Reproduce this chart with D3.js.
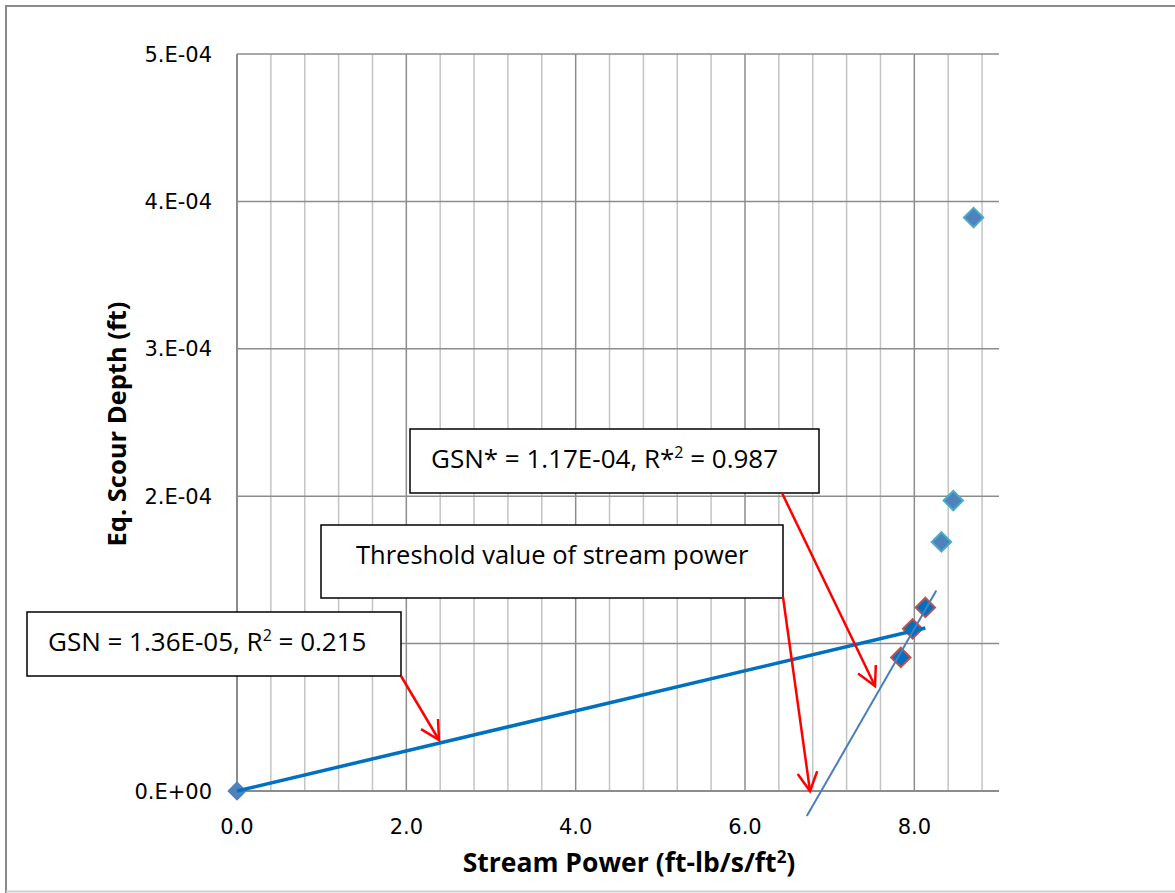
<!DOCTYPE html>
<html>
<head>
<meta charset="utf-8">
<script src="https://cdn.jsdelivr.net/npm/d3@7"></script>
<style>
  body { margin: 0; background: #fff; }
  svg { display: block; font-family: "Open Sans", "Noto Sans", sans-serif; }
  .tick { font-family: "DejaVu Sans", Verdana, sans-serif; }
</style>
</head>
<body>
<svg class="svg" width="1175" height="893"></svg>
<script>
// data
const originPoint = [{ x: 0, y: 0 }];
const fitX = [7.84, 7.98, 8.13];
const fitY = [0.906e-4, 1.10e-4, 1.245e-4];
const otherX = [8.32, 8.46, 8.70];
const otherY = [1.69e-4, 1.97e-4, 3.89e-4];

const gsnSlope = 1.36e-5;
const gsnRange = [0, 8.13];
// GSN* trend line ends as drawn
const gsnStarX = [6.73, 8.26];
const gsnStarY = [-0.17e-4, 1.36e-4];

const xTicks = [0, 2, 4, 6, 8];
const xMinorStep = 0.4;
const yTicks = [0, 1e-4, 2e-4, 3e-4, 4e-4, 5e-4];
// 1.E-04 sits under the GSN box in the original, so it is not shown
const yLabelTicks = [0, 2e-4, 3e-4, 4e-4, 5e-4];

const labels = {
  x: 'Stream Power (ft-lb/s/ft',
  y: 'Eq. Scour Depth (ft)',
  gsn: ['GSN = 1.36E-05, R', '2', ' = 0.215'],
  gsnStar: ['GSN* = 1.17E-04, R*', '2', ' = 0.987'],
  threshold: 'Threshold value of stream power'
};

const svg = d3.select('.svg');

// outer frame
svg.append('path')
  .attr('d', 'M6,893 L6,6 L1175,6')
  .attr('fill', 'none')
  .attr('stroke', '#8a8a8a')
  .attr('stroke-width', 2);
svg.append('line')
  .attr('x1', 6).attr('x2', 1175).attr('y1', 891.5).attr('y2', 891.5)
  .attr('stroke', '#d0d0d0').attr('stroke-width', 2);

const x = d3.scaleLinear().domain([0, 9]).range([237, 999]);
const y = d3.scaleLinear().domain([0, 5e-4]).range([791, 54]);

const grid = svg.append('g');

// minor vertical grid
const minor = d3.range(xMinorStep, 9, xMinorStep).filter(v => Math.abs(v / 2 - Math.round(v / 2)) > 1e-6);
grid.selectAll('.minor')
  .data(minor)
  .join('line')
  .attr('x1', d => x(d)).attr('x2', d => x(d))
  .attr('y1', y(0)).attr('y2', y(5e-4))
  .attr('stroke', '#c4c4c4').attr('stroke-width', 1.5);

// major vertical grid
grid.selectAll('.majorx')
  .data(xTicks.slice(1))
  .join('line')
  .attr('x1', d => x(d)).attr('x2', d => x(d))
  .attr('y1', y(0)).attr('y2', y(5e-4))
  .attr('stroke', '#8c8c8c').attr('stroke-width', 1.5);

// horizontal grid
grid.selectAll('.majory')
  .data(yTicks)
  .join('line')
  .attr('x1', x(0)).attr('x2', x(9))
  .attr('y1', d => y(d)).attr('y2', d => y(d))
  .attr('stroke', '#8c8c8c').attr('stroke-width', 1.5);

// axis lines
grid.append('line')
  .attr('x1', x(0)).attr('x2', x(0))
  .attr('y1', y(0)).attr('y2', y(5e-4))
  .attr('stroke', '#8c8c8c').attr('stroke-width', 2);
grid.append('line')
  .attr('x1', x(0)).attr('x2', x(9))
  .attr('y1', y(0)).attr('y2', y(0))
  .attr('stroke', '#8c8c8c').attr('stroke-width', 2);

// tick labels
const fmtY = d => d === 0 ? '0.E+00' : `${Math.round(d / 1e-4)}.E-04`;
svg.append('g')
  .attr('class', 'tick')
  .selectAll('text')
  .data(yLabelTicks)
  .join('text')
  .attr('x', 212)
  .attr('y', d => y(d))
  .attr('dy', '0.36em')
  .attr('text-anchor', 'end')
  .attr('font-size', 21)
  .attr('fill', '#000')
  .text(fmtY);

svg.append('g')
  .attr('class', 'tick')
  .selectAll('text')
  .data(xTicks)
  .join('text')
  .attr('x', d => x(d))
  .attr('y', 834)
  .attr('text-anchor', 'middle')
  .attr('font-size', 21)
  .attr('fill', '#000')
  .text(d => d3.format('.1f')(d));

// axis titles
const xt = svg.append('text')
  .attr('x', 629).attr('y', 872)
  .attr('text-anchor', 'middle')
  .attr('font-size', 26.5).attr('font-weight', 'bold')
  .text(labels.x);
xt.append('tspan').attr('dy', -9).attr('font-size', 17).text('2');
xt.append('tspan').attr('dy', 9).text(')');

svg.append('text')
  .attr('transform', 'translate(126,424) rotate(-90)')
  .attr('text-anchor', 'middle')
  .attr('font-size', 25.5).attr('font-weight', 'bold')
  .text(labels.y);

// markers
const diamond = d3.symbol().type(d3.symbolDiamond2).size(240);
const pts = svg.append('g');

pts.selectAll('.orig')
  .data(originPoint)
  .join('path')
  .attr('d', diamond)
  .attr('transform', d => `translate(${x(d.x)},${y(d.y)})`)
  .attr('fill', '#4f81bd');

const fitPts = fitX.map((v, i) => ({ x: v, y: fitY[i] }));
pts.selectAll('.fit')
  .data(fitPts)
  .join('path')
  .attr('d', diamond)
  .attr('transform', d => `translate(${x(d.x)},${y(d.y)})`)
  .attr('fill', '#0070c0')
  .attr('stroke', '#c0504d')
  .attr('stroke-width', 2);

const otherPts = otherX.map((v, i) => ({ x: v, y: otherY[i] }));
pts.selectAll('.other')
  .data(otherPts)
  .join('path')
  .attr('d', diamond)
  .attr('transform', d => `translate(${x(d.x)},${y(d.y)})`)
  .attr('fill', '#4f81bd')
  .attr('stroke', '#4bacc6')
  .attr('stroke-width', 2);

// trend lines
const line = d3.line().x(d => x(d[0])).y(d => y(d[1]));
svg.append('path')
  .attr('d', line(gsnRange.map(v => [v, v * gsnSlope])))
  .attr('fill', 'none')
  .attr('stroke', '#0070c0')
  .attr('stroke-width', 3.5);

svg.append('path')
  .attr('d', line(gsnStarX.map((v, i) => [v, gsnStarY[i]])))
  .attr('fill', 'none')
  .attr('stroke', '#4a7ebb')
  .attr('stroke-width', 2);

// annotation boxes
function box(x0, y0, x1, y1) {
  svg.append('rect')
    .attr('x', x0).attr('y', y0)
    .attr('width', x1 - x0).attr('height', y1 - y0)
    .attr('fill', '#fff')
    .attr('stroke', '#000')
    .attr('stroke-width', 1.5);
}

function supText(tx, ty, parts) {
  const t = svg.append('text')
    .attr('x', tx).attr('y', ty)
    .attr('font-size', 26)
    .attr('fill', '#000')
    .text(parts[0]);
  t.append('tspan').attr('dy', -10).attr('font-size', 16).text(parts[1]);
  t.append('tspan').attr('dy', 10).text(parts[2]);
}

box(27, 612, 401, 676);
supText(48, 651, labels.gsn);

box(321, 525, 783, 598);
svg.append('text')
  .attr('x', 356).attr('y', 564)
  .attr('font-size', 25.5)
  .text(labels.threshold);

box(410, 429, 819, 493);
supText(431, 468, labels.gsnStar);

// red arrows
function arrow(x0, y0, x1, y1) {
  const g = svg.append('g')
    .attr('stroke', '#ff0000')
    .attr('stroke-width', 2.5)
    .attr('fill', 'none');
  g.append('line').attr('x1', x0).attr('y1', y0).attr('x2', x1).attr('y2', y1);
  const a = Math.atan2(y0 - y1, x0 - x1);
  const len = 21, th = 28 * Math.PI / 180;
  g.append('path')
    .attr('d', `M${x1 + len * Math.cos(a - th)},${y1 + len * Math.sin(a - th)} L${x1},${y1} L${x1 + len * Math.cos(a + th)},${y1 + len * Math.sin(a + th)}`);
}

arrow(401, 676, 439, 740);
arrow(783, 597, 810, 791);
arrow(782, 493, 875, 686);
</script>
</body>
</html>
